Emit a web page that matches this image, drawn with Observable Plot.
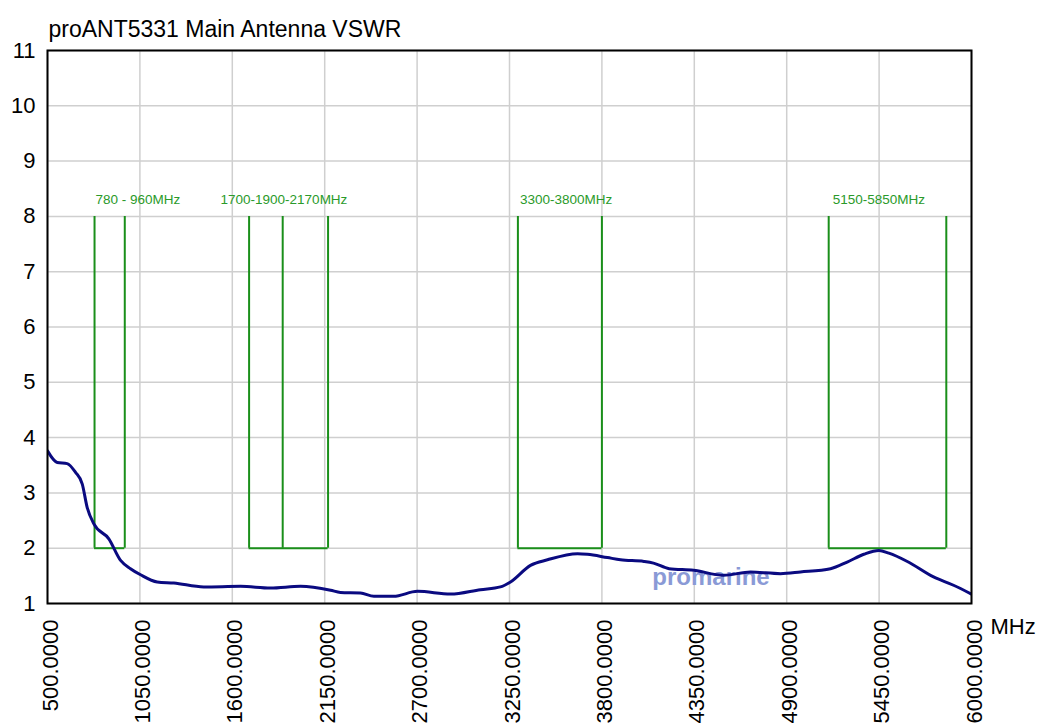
<!DOCTYPE html>
<html>
<head>
<meta charset="utf-8">
<script src="https://cdn.jsdelivr.net/npm/d3@7"></script>
<script src="https://cdn.jsdelivr.net/npm/@observablehq/plot@0.6"></script>
<style>
  html, body { margin: 0; padding: 0; background: #fff; }
  #chart svg { display: block; }
</style>
</head>
<body>
<div id="chart"></div>
<script>
const title = "proANT5331 Main Antenna VSWR";
const xUnit = "MHz";
const xTicks = [500, 1050, 1600, 2150, 2700, 3250, 3800, 4350, 4900, 5450, 6000];
const yTicks = [1, 2, 3, 4, 5, 6, 7, 8, 9, 10, 11];

const freq = [500, 558, 617, 667, 707, 736, 776, 865, 935, 994, 1054, 1153, 1252, 1430, 1649, 1827, 2006, 2185, 2244, 2363, 2443, 2560, 2702, 2899, 3077, 3196, 3256, 3375, 3476, 3655, 3714, 3833, 3911, 4050, 4107, 4200, 4345, 4524, 4685, 4863, 4982, 5161, 5260, 5359, 5449, 5508, 5618, 5774, 5893, 6000];
const vswr = [3.76, 3.55, 3.53, 3.37, 3.16, 2.74, 2.44, 2.17, 1.78, 1.63, 1.52, 1.39, 1.37, 1.30, 1.31, 1.28, 1.31, 1.24, 1.20, 1.19, 1.13, 1.13, 1.22, 1.17, 1.25, 1.30, 1.39, 1.69, 1.79, 1.90, 1.89, 1.83, 1.79, 1.76, 1.73, 1.63, 1.60, 1.51, 1.57, 1.54, 1.57, 1.63, 1.75, 1.89, 1.96, 1.91, 1.76, 1.48, 1.33, 1.17];

const bandEdges = [[780, 960], [1700, 1900, 2170], [3300, 3800], [5150, 5850]];
const bandLabels = ["780 - 960MHz", "1700-1900-2170MHz", "3300-3800MHz", "5150-5850MHz"];
const bandLabelX = [786, 1530, 3312, 5174];
const bandLow = 2;
const bandHigh = 8;

const watermark = "promarine";
const watermarkX = 4100;
const watermarkY = 1.47;

const curve = freq.map((f, i) => ({f, v: vswr[i]}));
const edges = bandEdges.flat();
const bands = bandEdges.map(e => ({lo: e[0], hi: e[e.length - 1]}));
const labels = bandLabels.map((t, i) => ({t, x: bandLabelX[i]}));

const green = "#1a8f1a";
const font = "'Liberation Sans', Arial, sans-serif";

const chart = Plot.plot({
  width: 1040,
  height: 727,
  marginLeft: 47,
  marginRight: 69,
  marginTop: 50,
  marginBottom: 124,
  style: {fontFamily: font, background: "#fff", color: "#000"},
  x: {domain: [500, 6000]},
  y: {domain: [1, 11]},
  marks: [
    Plot.gridX(xTicks, {stroke: "#cfcfcf", strokeOpacity: 1, strokeWidth: 1.5}),
    Plot.gridY(yTicks, {stroke: "#cfcfcf", strokeOpacity: 1, strokeWidth: 1.5}),
    Plot.axisY(yTicks, {tickSize: 0, tickPadding: 12, fontSize: 22, label: null, fill: "#000", tickFormat: d => String(d)}),
    Plot.axisX(xTicks, {tickSize: 0, tickPadding: 16, fontSize: 22, tickRotate: -90, label: null,
      tickFormat: d => d.toFixed(4), fill: "#000", dx: 3}),
    Plot.ruleX(edges, {x: d => d, y1: bandLow, y2: bandHigh, stroke: green, strokeWidth: 2}),
    Plot.ruleY(bands, {x1: "lo", x2: "hi", y: bandLow, stroke: green, strokeWidth: 2}),
    Plot.text(labels, {x: "x", y: bandHigh, text: "t", dy: -17, textAnchor: "start", fill: "#2a9a2a", fontSize: 13.5}),
    Plot.text([watermark], {x: watermarkX, y: watermarkY, text: d => d, textAnchor: "start", fill: "#8a9ad6", fontSize: 24, fontWeight: "bold"}),
    Plot.line(curve, {x: "f", y: "v", curve: "monotone-x", stroke: "#0a0a80", strokeWidth: 3, clip: true}),
    Plot.frame({stroke: "#000", strokeWidth: 2}),
    Plot.text([title], {frameAnchor: "top-left", text: d => d, dy: -30, dx: 1, textAnchor: "start", fontSize: 23, fill: "#000"}),
    Plot.text([xUnit], {frameAnchor: "bottom-right", text: d => d, dx: 19, dy: 30, textAnchor: "start", fontSize: 22, fill: "#000"})
  ]
});
document.getElementById("chart").appendChild(chart);
</script>
</body>
</html>
